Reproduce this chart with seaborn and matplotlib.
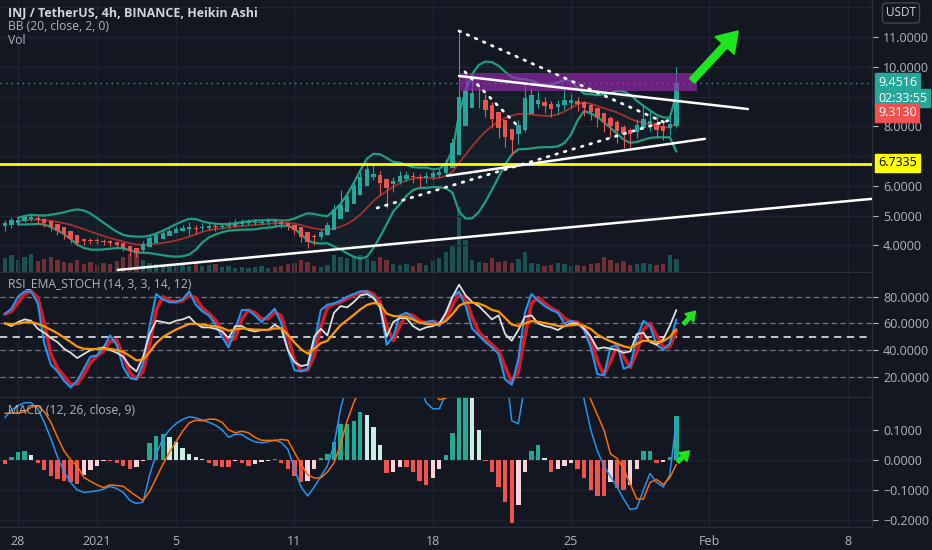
import numpy as np
import pandas as pd
import seaborn as sns
import matplotlib.pyplot as plt

# ---- data (8h Heikin Ashi bars) ----
bar_start = "2020-12-27 08:00"
origin = "2020-12-28"

ha_close = [4.74, 4.84, 4.87, 4.94, 4.96, 4.86, 4.76, 4.63, 4.50, 4.37,
            4.23, 4.09, 4.14, 4.16, 4.16, 4.13, 4.08, 4.02, 3.93, 3.81,
            3.78, 4.05, 4.25, 4.36, 4.43, 4.50, 4.55, 4.60, 4.62, 4.56,
            4.63, 4.64, 4.62, 4.66, 4.70, 4.75, 4.77, 4.78, 4.78, 4.79,
            4.80, 4.78, 4.73, 4.64, 4.51, 4.30, 4.11, 4.28, 4.44, 4.70,
            5.23, 5.37, 5.66, 5.98, 6.31, 6.58, 6.41, 6.10, 5.92, 6.17,
            6.34, 6.35, 6.29, 6.25, 6.34, 6.43, 6.47, 6.77, 7.45, 9.00,
            9.20, 9.13, 8.88, 8.54, 8.25, 7.93, 7.63, 7.54, 8.03, 8.95,
            9.06, 8.87, 8.69, 8.57, 8.74, 8.87, 8.90, 8.76, 8.63, 8.49,
            8.29, 8.13, 8.00, 7.83, 7.75, 7.75, 8.05, 8.24, 8.17, 7.89,
            7.85, 8.07, 9.45]
ha_high = [4.85, 4.95, 4.97, 5.02, 5.05, 5.00, 4.92, 4.80, 4.66, 4.52,
           4.40, 4.27, 4.22, 4.24, 4.25, 4.22, 4.18, 4.12, 4.04, 3.95,
           3.88, 4.15, 4.34, 4.45, 4.52, 4.60, 4.66, 4.70, 4.78, 4.70,
           4.74, 4.76, 4.74, 4.77, 4.82, 4.90, 4.88, 4.90, 4.88, 4.90,
           4.91, 4.90, 4.86, 4.80, 4.70, 4.55, 4.35, 4.40, 4.55, 4.80,
           5.40, 5.87, 5.80, 6.15, 6.48, 6.80, 6.72, 6.50, 6.20, 6.30,
           6.50, 6.50, 6.45, 6.40, 6.45, 6.55, 6.58, 6.90, 7.60, 11.20,
           9.75, 9.60, 9.40, 9.10, 8.80, 8.45, 8.10, 7.85, 8.20, 9.45,
           9.30, 9.20, 9.00, 8.85, 8.90, 9.30, 9.10, 9.00, 8.85, 8.75,
           8.60, 8.45, 8.35, 8.20, 8.05, 7.95, 8.25, 8.75, 8.55, 8.35,
           8.10, 8.30, 10.00]
ha_low = [4.50, 4.60, 4.70, 4.78, 4.82, 4.72, 4.62, 4.50, 4.35, 4.22,
          4.08, 3.98, 4.02, 4.05, 4.06, 4.02, 3.97, 3.90, 3.80, 3.66,
          3.62, 3.76, 4.00, 4.20, 4.30, 4.38, 4.44, 4.50, 4.35, 4.40,
          4.48, 4.52, 4.50, 4.55, 4.58, 4.63, 4.66, 4.68, 4.68, 4.69,
          4.70, 4.66, 4.60, 4.52, 4.38, 4.12, 3.92, 4.02, 4.20, 4.35,
          4.55, 5.10, 5.30, 5.60, 5.90, 6.25, 6.20, 5.70, 5.26, 5.80,
          6.05, 6.15, 6.10, 5.95, 6.10, 6.20, 6.30, 6.40, 6.70, 7.30,
          8.60, 8.80, 8.60, 8.30, 7.95, 7.60, 7.30, 7.05, 7.40, 7.80,
          8.60, 8.60, 8.45, 8.30, 8.40, 8.55, 8.60, 8.50, 8.35, 8.20,
          7.98, 7.80, 7.65, 7.45, 7.28, 7.30, 7.60, 7.90, 7.85, 7.60,
          7.55, 7.70, 7.95]
first_open = 4.66
volume = [140, 170, 120, 150, 180, 110, 130, 150, 120, 100,
          90, 120, 80, 100, 70, 90, 80, 110, 150, 180,
          200, 120, 90, 80, 70, 60, 80, 70, 60, 90,
          60, 70, 80, 50, 60, 40, 50, 40, 50, 60,
          40, 50, 60, 80, 90, 120, 100, 60, 50, 70,
          170, 150, 140, 160, 170, 130, 110, 150, 120, 80,
          70, 80, 60, 90, 70, 110, 140, 200, 260, 650,
          320, 120, 100, 90, 140, 100, 110, 90, 130, 200,
          90, 80, 60, 70, 90, 80, 60, 70, 60, 80,
          90, 150, 120, 90, 110, 70, 80, 90, 80, 70,
          80, 170, 130]

stoch_k = [67, 71, 80, 84, 84, 75, 45, 29, 24, 17,
           12, 17, 26, 35, 36, 42, 51, 44, 27, 19,
           18, 30, 58, 82, 78, 76, 76, 78, 84, 74,
           69, 66, 59, 50, 42, 56, 70, 70, 66, 61,
           66, 71, 60, 40, 25, 24, 26, 45, 70, 74,
           75, 77, 80, 82, 84, 84, 80, 72, 44, 50,
           66, 68, 64, 60, 61, 62, 58, 68, 80, 84,
           73, 56, 51, 46, 42, 37, 18, 14, 33, 68,
           82, 77, 73, 70, 68, 60, 62, 60, 55, 42,
           22, 21, 42, 44, 26, 28, 49, 62, 58, 44,
           40, 45, 63]
rsi = [60, 58, 61, 63, 62, 56, 53, 49, 46, 41,
       38, 34, 37, 40, 41, 42, 40, 38, 35, 28,
       24, 35, 52, 62, 61, 60, 62, 63, 65, 60,
       57, 57, 56, 54, 49, 58, 58, 55, 54, 55,
       55, 59, 56, 40, 31, 28, 29, 50, 56, 51,
       68, 73, 72, 76, 81, 82, 79, 72, 50, 61,
       64, 64, 58, 55, 57, 58, 60, 68, 80, 89,
       81, 76, 73, 68, 63, 66, 52, 47, 55, 65,
       66, 60, 58, 57, 55, 58, 60, 60, 56, 50,
       41, 42, 41, 40, 38, 39, 52, 53, 46, 44,
       48, 58, 70]

macd_line = [0.14, 0.165, 0.18, 0.19, 0.19, 0.17, 0.125, 0.07, 0.01, -0.04,
             -0.075, -0.10, -0.108, -0.106, -0.103, -0.097, -0.088, -0.095, -0.108, -0.135,
             -0.145, -0.14, -0.05, 0.02, 0.07, 0.10, 0.12, 0.135, 0.143, 0.14,
             0.132, 0.125, 0.115, 0.10, 0.075, 0.085, 0.085, 0.07, 0.06, 0.057,
             0.06, 0.066, 0.058, 0.035, -0.03, -0.09, -0.12, -0.09, -0.055, -0.02,
             0.05, 0.17, 0.25, 0.32, 0.40, 0.48, 0.52, 0.52, 0.45, 0.42,
             0.40, 0.37, 0.32, 0.25, 0.19, 0.17, 0.17, 0.22, 0.35, 0.60,
             0.80, 0.88, 0.86, 0.78, 0.66, 0.50, 0.32, 0.13, 0.12, 0.25,
             0.33, 0.36, 0.34, 0.31, 0.30, 0.30, 0.29, 0.26, 0.20, 0.10,
             0.03, -0.02, -0.055, -0.09, -0.13, -0.165, -0.16, -0.10, -0.045, -0.075,
             -0.09, -0.05, 0.13]
macd_hist = [-0.015, 0.01, 0.025, 0.03, 0.015, -0.01, -0.035, -0.055, -0.065, -0.07,
             -0.075, -0.08, -0.05, -0.035, -0.02, -0.005, -0.005, -0.01, -0.02, -0.03,
             -0.025, -0.005, 0.055, 0.08, 0.085, 0.075, 0.06, 0.04, 0.02, 0.008,
             0.002, -0.01, -0.02, -0.025, -0.025, -0.005, -0.01, -0.02, -0.015, -0.008,
             -0.005, 0.002, -0.01, -0.03, -0.055, -0.075, -0.07, -0.03, 0.005, 0.02,
             0.06, 0.12, 0.12, 0.13, 0.16, 0.15, 0.11, 0.05, -0.045, -0.04,
             -0.025, -0.025, -0.04, -0.07, -0.085, -0.06, -0.03, 0.015, 0.09, 0.25,
             0.25, 0.22, 0.10, -0.005, -0.04, -0.09, -0.14, -0.21, -0.15, -0.04,
             0.03, 0.05, 0.005, -0.04, -0.03, -0.02, -0.01, -0.03, -0.06, -0.10,
             -0.12, -0.12, -0.075, -0.095, -0.10, -0.085, -0.03, 0.03, 0.03, -0.01,
             -0.008, 0.01, 0.145]

tick_days = [0, 4, 8, 14, 21, 28, 35, 42]
tick_labels = ["28", "2021", "5", "11", "18", "25", "Feb", "8"]
price_ticks = [4, 5, 6, 8, 10, 11]
price_grid_only = [7, 9, 12]   # covered by price tags on the axis
rsi_ticks = [20, 40, 60, 80]
rsi_levels = [20, 40, 50, 60, 80]
macd_ticks = [-0.2, -0.1, 0.0, 0.1]

# chart drawings (day offset from Dec 28, price)
support_level = 6.7335
last_price = 9.4516
solid_trends = [((22.33, 9.69), (36.96, 8.58)),
                ((21.72, 6.34), (34.78, 7.58)),
                ((5.06, 3.18), (43.3, 5.57))]
dotted_trends = [((22.33, 11.2), (33.0, 8.05)),
                 ((22.63, 9.83), (25.32, 8.0)),
                 ((18.18, 5.26), (33.0, 8.21))]
zone_days = (22.33, 34.38)
zone_prices = (9.19, 9.79)

# ---- colours ----
BG = "#131722"
GRID = "#1f2330"
SEP = "#2a2e39"
TXT = "#b2b5be"
UP = "#26a69a"
DN = "#ef5350"

sns.set_style("dark", {"axes.facecolor": BG, "figure.facecolor": BG})
plt.rcParams["font.family"] = ["Open Sans", "DejaVu Sans"]

n = len(ha_close)
times = pd.date_range(bar_start, periods=n, freq="8h")
days = np.asarray((times - pd.Timestamp(origin)) / pd.Timedelta(days=1))
close = pd.Series(ha_close)
ha_open = [first_open]
for k in range(1, n):
    ha_open.append((ha_open[-1] + ha_close[k - 1]) / 2)
ha_open = np.array(ha_open)
is_up = close.values >= ha_open

W, H = 932, 550
fig = plt.figure(figsize=(W / 100, H / 100), dpi=100)


def rect(top, bottom):
    return [0, 1 - bottom / H, 872 / W, (bottom - top) / H]


ax = fig.add_axes(rect(0, 272))
ax_rsi = fig.add_axes(rect(273, 397))
ax_macd = fig.add_axes(rect(398, 527))
xlim = (-0.91, 43.24)
pmin, pmax = 3.11, 12.24

# volume shares the price panel, drawn underneath it
vol_ax = ax.twinx()
vol_ax.set_zorder(ax.get_zorder() - 1)
ax.patch.set_visible(False)
vol_ax.set_facecolor(BG)
vol_ax.grid(False)
vol_ax.set_yticks([])
for s in vol_ax.spines.values():
    s.set_visible(False)
vol_ax.set_ylim(0, 2720)
vol_ax.set_xlim(*xlim)

for a in (ax, ax_rsi, ax_macd):
    a.set_xlim(*xlim)
    a.set_xticks(tick_days)
    a.grid(True, color=GRID, lw=1)
    a.yaxis.tick_right()
    a.tick_params(axis="y", colors=TXT, labelsize=9, length=4, width=0.8, pad=4,
                  left=False, labelleft=False, right=True, labelright=True)
    a.tick_params(axis="x", length=0, colors=TXT, labelsize=9)
    for s in ("top", "left"):
        a.spines[s].set_visible(False)
    for s in ("bottom", "right"):
        a.spines[s].set_color(SEP)
        a.spines[s].set_linewidth(1)
    a.set_axisbelow(True)
ax.set_xticklabels([])
ax_rsi.set_xticklabels([])
ax_macd.set_xticklabels(tick_labels)
ax_macd.tick_params(axis="x", pad=6)

fmt = lambda v, p: f"{v:.4f}".replace("-", "\u2212")
for a in (ax, ax_rsi, ax_macd):
    a.yaxis.set_major_formatter(plt.FuncFormatter(fmt))

# ---- main price panel ----
ax.set_ylim(pmin, pmax)
ax.set_yticks(price_ticks)

vol_colors = [UP if u else DN for u in is_up]
vol_ax.bar(days, volume, width=0.22, color=vol_colors, alpha=0.42, lw=0)
for y in price_ticks + price_grid_only:
    vol_ax.axhline((y - pmin) / (pmax - pmin) * 2720, color=GRID, lw=1, zorder=0)
for d in tick_days:
    vol_ax.axvline(d, color=GRID, lw=1, zorder=0)

basis = close.rolling(10, min_periods=3).mean()
dev = close.rolling(10, min_periods=3).std(ddof=0)
upper, lower = basis + 2 * dev, basis - 2 * dev
ax.fill_between(days, lower, upper, color=UP, alpha=0.05, lw=0)
sns.lineplot(x=days, y=upper.values, ax=ax, color="#1f9e82", lw=1.6, errorbar=None)
sns.lineplot(x=days, y=lower.values, ax=ax, color="#1f9e82", lw=1.6, errorbar=None)
sns.lineplot(x=days, y=basis.values, ax=ax, color="#a8302f", lw=1.3, errorbar=None)

cols = np.where(is_up, UP, DN)
ax.vlines(days, ha_low, ha_high, colors=cols, lw=0.8, zorder=3)
body_lo = np.minimum(ha_open, close.values)
body_h = np.maximum(np.abs(close.values - ha_open), 0.03)
ax.bar(days, body_h, bottom=body_lo, width=0.22, color=cols, lw=0, zorder=4)

ax.axhline(support_level, color="#ffff00", lw=2, zorder=5)
ax.axhline(last_price, color=UP, lw=1, ls=(0, (1, 3)), zorder=2)
ax.fill_between(zone_days, zone_prices[0], zone_prices[1], color="#9c27b0",
                alpha=0.65, lw=0, zorder=5)
for (x0, y0), (x1, y1) in solid_trends:
    ax.plot([x0, x1], [y0, y1], color="white", lw=1.8, zorder=6)
for (x0, y0), (x1, y1) in dotted_trends:
    ax.plot([x0, x1], [y0, y1], color="white", lw=2, ls=(0, (0.6, 2.6)),
            dash_capstyle="round", zorder=6)
ax.annotate("", xy=(36.56, 11.27), xytext=(34.03, 9.46),
            arrowprops=dict(arrowstyle="simple,head_length=1.3,head_width=1.7,tail_width=0.45",
                            fc="#1ee61e", ec="#1ee61e", mutation_scale=11), zorder=7)

# ---- RSI EMA STOCH panel ----
ax_rsi.set_ylim(4.8, 97.8)
ax_rsi.set_yticks(rsi_ticks)
for lv in rsi_levels:
    ax_rsi.axhline(lv, color="#d1d4dc" if lv == 50 else "#787b86",
                   lw=1.3 if lv == 50 else 0.9, ls=(0, (4, 3)), zorder=1)
k_line = pd.Series(stoch_k)
d_line = k_line.rolling(2, min_periods=1).mean()
rsi_ema = pd.Series(rsi).ewm(span=6, adjust=False).mean()
sns.lineplot(x=days, y=d_line.values, ax=ax_rsi, color="#d81b25", lw=2.6, errorbar=None)
sns.lineplot(x=days, y=k_line.values, ax=ax_rsi, color="#2196f3", lw=1.5, errorbar=None)
sns.lineplot(x=days, y=rsi, ax=ax_rsi, color="#e0e0e0", lw=1.3, errorbar=None)
sns.lineplot(x=days, y=rsi_ema.values, ax=ax_rsi, color="#ff9800", lw=1.6, errorbar=None)
ax_rsi.annotate("", xy=(34.4, 70.7), xytext=(33.6, 58),
                arrowprops=dict(arrowstyle="simple,head_length=1.3,head_width=1.7,tail_width=0.5",
                                fc="#1ee61e", ec="#1ee61e", mutation_scale=5))

# ---- MACD panel ----
ax_macd.set_ylim(-0.223, 0.2056)
ax_macd.set_yticks(macd_ticks)
hist = np.array(macd_hist)
hist_cols = []
for k, h in enumerate(hist):
    prev = hist[k - 1] if k else h
    if h >= 0:
        hist_cols.append("#22ab94" if h >= prev else "#c8eee6")
    else:
        hist_cols.append("#f05350" if h <= prev else "#fbd3d6")
ax_macd.bar(days, hist, width=0.22, color=hist_cols, lw=0)
signal = np.array(macd_line) - hist
sns.lineplot(x=days, y=macd_line, ax=ax_macd, color="#2196f3", lw=1.1, errorbar=None)
sns.lineplot(x=days, y=signal, ax=ax_macd, color="#ff6d00", lw=1.1, errorbar=None)
ax_macd.annotate("", xy=(34.1, 0.036), xytext=(33.3, -0.013),
                 arrowprops=dict(arrowstyle="simple,head_length=1.3,head_width=1.7,tail_width=0.5",
                                 fc="#1ee61e", ec="#1ee61e", mutation_scale=5))

for a in (ax, ax_rsi, ax_macd):
    a.set_xlabel("")
    a.set_ylabel("")

# ---- legends / labels ----
def fx(x):
    return x / W


def fy(y):
    return 1 - y / H


fig.text(fx(8), fy(13), "INJ / TetherUS, 4h, BINANCE, Heikin Ashi", color="#d1d4dc",
         fontsize=9, fontweight="bold", va="center")
fig.text(fx(8), fy(27), "BB (20, close, 2, 0)", color=TXT, fontsize=8.7, va="center")
fig.text(fx(8), fy(40), "Vol", color=TXT, fontsize=8.7, va="center")
fig.text(fx(8), fy(284), "RSI_EMA_STOCH (14, 3, 3, 14, 12)", color=TXT, fontsize=8.7, va="center")
fig.text(fx(8), fy(411), "MACD (12, 26, close, 9)", color=TXT, fontsize=8.7, va="center")

tags = [(82, "9.4516", "white", UP),
        (98, "02:33:55", "white", UP),
        (113, "9.3130", "white", DN),
        (163, "6.7335", "black", "#ffff00")]
for y, s, c, bgc in tags:
    fig.text(fx(878), fy(y), s, color=c, fontsize=9, va="center", ha="left",
             bbox=dict(boxstyle="square,pad=0.22", fc=bgc, ec=bgc))
fig.text(fx(901), fy(13), "USDT", color="#d1d4dc", fontsize=8.5, va="center", ha="center",
         bbox=dict(boxstyle="round,pad=0.3,rounding_size=0.3", fc=BG, ec="#434651"))

fig.savefig("out.png", dpi=100, facecolor=BG)
